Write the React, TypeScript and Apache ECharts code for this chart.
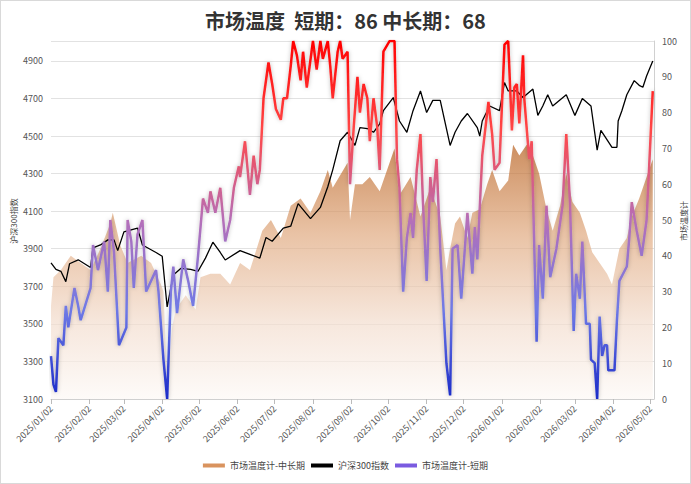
import React, { useEffect, useRef } from "react";
import * as echarts from "echarts";

const START = new Date(2025, 0, 2);
const TOTAL_DAYS = 489;
const categories: string[] = Array.from({ length: TOTAL_DAYS }, (_, i) => {
  const d = new Date(START.getFullYear(), START.getMonth(), START.getDate() + i);
  const m = String(d.getMonth() + 1).padStart(2, "0");
  const dd = String(d.getDate()).padStart(2, "0");
  return `${d.getFullYear()}/${m}/${dd}`;
});

const shortDays = [0,2,4,6,10,12,14,19,22,24,32,34,38,43,46,48,51,55,61,62,65,67,70,74,77,85,87,91,94,97,99,102,107,111,115,119,123,127,129,133,137,141,145,148,152,153,157,161,164,167,169,172,176,179,182,186,188,191,194,196,199,202,204,207,212,215,218,220,224,226,228,232,234,236,240,242,245,248,250,253,256,258,261,264,266,269,274,278,280,282,285,288,291,293,296,299,301,304,307,309,312,315,320,323,325,329,332,337,341,343,345,349,354,357,359,363,367,370,373,375,377,379,382,383,387,389,393,395,398,401,404,409,414,417,420,423,425,428,430,433,436,437,440,442,444,446,448,450,451,456,458,460,466,468,470,474,478,482,487];
const shortVals = [12,4,2,17,15,26,20,31,26,22,31,43,36,44,30,50,41,15,20,50,44,31,46,50,30,36,30,11,0,30,37,24,39,33,26,40,56,52,58,52,59,44,50,59,65,62,72,57,68,60,64,84,94,88,81,78,84,84,93,100,96,89,97,87,100,92,100,95,100,93,84,97,100,95,97,60,76,90,80,88,84,72,84,76,64,97,100,100,67,59,30,45,52,45,64,74,55,33,62,55,67,42,10,1,42,43,28,52,35,48,39,68,83,74,64,66,99,100,75,87,88,77,96,84,67,72,16,43,28,54,34,42,54,74,55,19,35,28,44,21,21,11,10,0,23,12,15,15,8,8,22,33,37,45,55,47,40,50,86];

const midDays = [0,2,8,16,24,32,40,48,50,56,62,73,81,89,91,94,98,101,109,117,121,129,137,145,153,161,171,178,186,194,202,210,218,224,228,240,242,246,252,258,266,274,278,282,291,299,307,315,320,323,327,331,337,341,347,353,357,363,370,374,379,385,390,395,401,406,412,417,422,428,433,438,444,450,454,460,466,470,476,482,487];
const midVals = [26,34,36,40,38,36,42,49,52,43,38,40,38,32,30,5,20,25,29,25,34,35,35,32,38,36,47,50,45,54,56,52,58,64,59,66,50,60,60,62,58,66,70,57,62,51,59,51,36,42,49,51,45,52,53,60,64,58,61,71,68,71,68,63,53,47,54,63,55,52,47,41,38,35,32,42,45,51,56,62,67];

const csiDays = [0,4,8,12,15,22,32,34,40,46,51,54,59,70,74,85,90,94,99,105,113,119,125,131,137,141,153,161,169,174,179,188,194,200,210,218,224,228,234,240,246,250,256,261,266,269,277,282,288,293,299,304,309,315,323,327,332,337,345,347,349,355,363,367,370,377,382,390,394,398,402,406,417,424,430,437,442,445,449,454,458,459,462,466,472,476,479,482,487];
const csiVals = [3825,3790,3780,3725,3820,3841,3800,3905,3920,3947,3947,3890,3990,4010,3920,3880,3860,3590,3760,3795,3790,3780,3850,3935,3880,3840,3890,3870,3850,3960,3940,4010,4020,4140,4060,4120,4230,4320,4475,4520,4450,4545,4540,4520,4565,4635,4705,4580,4520,4635,4740,4625,4690,4690,4450,4520,4580,4620,4545,4500,4580,4660,4635,4785,4740,4740,4705,4750,4610,4660,4720,4660,4720,4610,4700,4660,4425,4530,4490,4440,4440,4580,4635,4720,4795,4770,4760,4820,4900];

const titleText = "市场温度  短期：86 中长期：68";
const legendNames = ["市场温度计-中长期", "沪深300指数", "市场温度计-短期"];
const leftAxisName = "沪深300指数";
const rightAxisName = "市场温度计";

const pair = (days: number[], vals: number[]) => days.map((d, i) => [d, vals[i]]);

export default function App() {
  const ref = useRef<HTMLDivElement>(null);
  useEffect(() => {
    document.body.style.margin = "0";
    const chart = echarts.init(ref.current!, undefined, { renderer: "svg" });
    const font = "'Noto Sans CJK SC', sans-serif";
    const isTick = (i: number, v: string) => v.endsWith("/02");
    chart.setOption({
      animation: false,
      textStyle: { fontFamily: font },
      title: {
        text: titleText,
        left: "center",
        top: 4,
        textStyle: { fontSize: 20, fontWeight: "bold", color: "#333", fontFamily: font },
      },
      graphic: [
        {
          type: "text", x: 12, y: 220, rotation: Math.PI / 2,
          style: { text: leftAxisName, fontSize: 8, fill: "#444", fontFamily: font, align: "center", verticalAlign: "middle" },
        },
        {
          type: "text", x: 682, y: 220, rotation: Math.PI / 2,
          style: { text: rightAxisName, fontSize: 8, fill: "#444", fontFamily: font, align: "center", verticalAlign: "middle" },
        },
      ],
      legend: {
        bottom: 8,
        itemWidth: 22,
        itemHeight: 4,
        itemGap: 6,
        textStyle: { fontSize: 9, color: "#444" },
        data: [
          { name: legendNames[0], icon: "rect", itemStyle: { color: "#d9935e" } },
          { name: legendNames[1], icon: "rect", itemStyle: { color: "#000" } },
          { name: legendNames[2], icon: "rect", itemStyle: { color: "#7a5be0" } },
        ],
      },
      grid: { left: 50, right: 36, top: 40, bottom: 84, outerBoundsMode: "none", containLabel: false },
      xAxis: {
        type: "category",
        data: categories,
        boundaryGap: false,
        axisLine: { lineStyle: { color: "#d0d0d0" } },
        axisTick: { lineStyle: { color: "#bbb" }, interval: isTick },
        axisLabel: { rotate: 45, fontSize: 9, color: "#555", interval: isTick },
      },
      yAxis: [
        {
          type: "value",
          min: 3100,
          max: 5006,
          interval: 200,
          axisLabel: { fontSize: 9, color: "#555", showMaxLabel: false, formatter: (v: number) => String(v) },
          axisLine: { show: false },
          axisTick: { show: false },
          splitLine: { lineStyle: { color: "#e2e2e2" } },
        },
        {
          type: "value",
          min: 0,
          max: 100,
          interval: 10,
          axisLabel: { fontSize: 9, color: "#555" },
          axisLine: { show: true, lineStyle: { color: "#d0d0d0" } },
          axisTick: { show: false },
          splitLine: { show: false },
        },
      ],
      visualMap: {
        show: false,
        type: "continuous",
        seriesIndex: 2,
        dimension: 1,
        min: 0,
        max: 100,
        inRange: { color: ["#1a2bc8", "#6f7ae6", "#b56fb8", "#ff4848", "#ff0000"] },
      },
      series: [
        {
          name: legendNames[0],
          type: "line",
          yAxisIndex: 1,
          data: pair(midDays, midVals),
          symbol: "none",
          lineStyle: { width: 0 },
          itemStyle: { color: "#d9935e" },
          areaStyle: {
            color: new echarts.graphic.LinearGradient(0, 0, 0, 1, [
              { offset: 0, color: "#b8601e" },
              { offset: 0.35, color: "#e0a97f" },
              { offset: 0.7, color: "#f3ddce" },
              { offset: 1, color: "#fdf9f6" },
            ]),
          },
        },
        {
          name: legendNames[1],
          type: "line",
          yAxisIndex: 0,
          data: pair(csiDays, csiVals),
          symbol: "none",
          lineStyle: { width: 1.3, color: "#000" },
          itemStyle: { color: "#000" },
        },
        {
          name: legendNames[2],
          type: "line",
          yAxisIndex: 1,
          data: pair(shortDays, shortVals),
          symbol: "none",
          lineStyle: { width: 2.5, shadowBlur: 4, shadowColor: "rgba(0,0,0,0.25)" },
        },
      ],
    });
    return () => chart.dispose();
  }, []);
  return (
    <div
      ref={ref}
      style={{ width: 691, height: 484, boxSizing: "border-box", border: "1px solid #d9d9d9" }}
    />
  );
}
